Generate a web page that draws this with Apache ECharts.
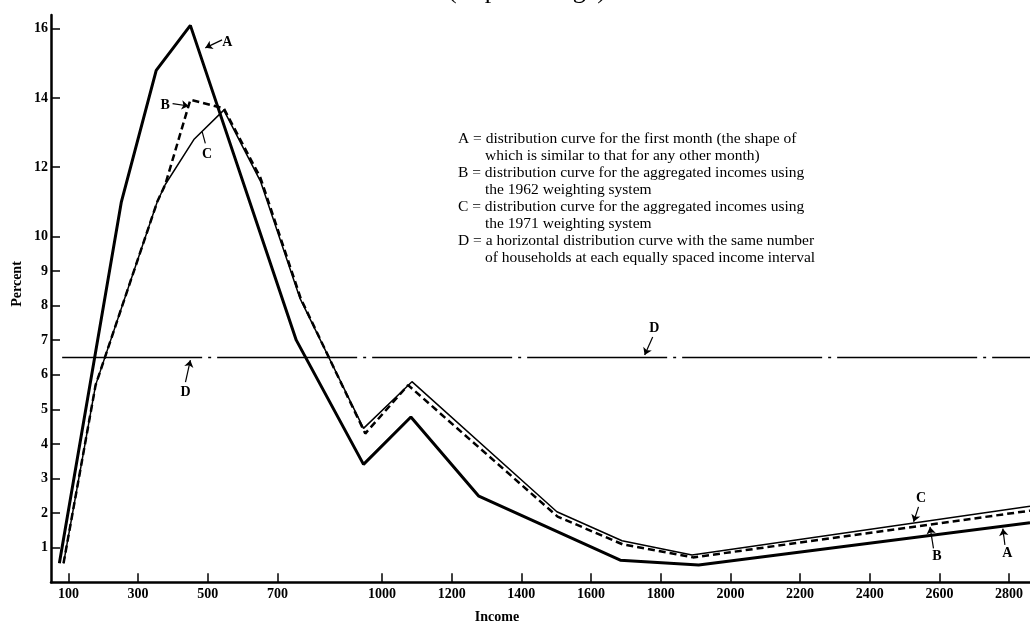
<!DOCTYPE html>
<html><head><meta charset="utf-8">
<script src="https://cdn.jsdelivr.net/npm/echarts@6/dist/echarts.min.js"></script>
<style>html,body{margin:0;padding:0;background:#fff}#c{width:1030px;height:625px}</style>
</head><body><div id="c"></div>
<script>
// ---- data ----
const xTickValues = [100,300,500,700,1000,1200,1400,1600,1800,2000,2200,2400,2600,2800];
const yTickValues = [1,2,3,4,5,6,7,8,9,10,12,14,16];
const curveA = [[74,0.55],[252,11.0],[352,14.8],[450,16.1],[754,7.0],[947,3.41],[1083,4.78],[1278,2.49],[1684,0.64],[1909,0.5],[2860,1.72]];
const curveB = [[86,0.55],[178,5.7],[278,8.7],[355,11.0],[378,11.5],[450,13.95],[546,13.7],[651,11.7],[767,8.2],[952,4.3],[1075,5.7],[1504,1.9],[1690,1.1],[1893,0.72],[2860,2.07]];
const curveC = [[86,0.55],[178,5.7],[278,8.7],[355,11.0],[378,11.5],[460,12.8],[546,13.65],[651,11.6],[765,8.2],[947,4.45],[1086,5.8],[1502,2.04],[1689,1.2],[1890,0.79],[2860,2.2]];
const curveD = [[82,6.5],[2860,6.5]];
const titleText = '(In percentage)';
const xName = 'Income';
const yName = 'Percent';
const legendLines = [
  'A = distribution curve for the first month (the shape of',
  'which is similar to that for any other month)',
  'B = distribution curve for the aggregated incomes using',
  'the 1962 weighting system',
  'C = distribution curve for the aggregated incomes using',
  'the 1971 weighting system',
  'D = a horizontal distribution curve with the same number',
  'of households at each equally spaced income interval'
];
// annotation letters (data coords) and leader lines
const annLetters = [['A',556,15.6],['B',378,13.8],['C',498,12.37],['D',436,5.5],['D',1782,7.34],['C',2547,2.43],['B',2593,0.74],['A',2795,0.84]];
const annLeaders = [
  [[541,15.68],[493,15.45],'arrow'],
  [[399,13.84],[445,13.77],'arrow'],
  [[493,12.69],[484,13.02],'none'],
  [[436,5.79],[450,6.42],'arrow'],
  [[1777,7.09],[1754,6.57],'arrow'],
  [[2540,2.18],[2526,1.75],'arrow'],
  [[2583,0.98],[2573,1.6],'arrow'],
  [[2788,1.08],[2782,1.55],'arrow']
];

const SERIF = '"Liberation Serif","DejaVu Serif",serif';
const chart = echarts.init(document.getElementById('c'), null, {renderer:'canvas'});

const graphics = [
  {type:'text', style:{text:titleText, x:527, y:-9, align:'center', verticalAlign:'middle', font:'26px '+SERIF, fill:'#000'}},
  {type:'text', style:{text:xName, x:497, y:617, align:'center', verticalAlign:'middle', font:'bold 14px '+SERIF, fill:'#000'}},
  {type:'text', rotation:Math.PI/2, x:17, y:284, style:{text:yName, x:0, y:0, align:'center', verticalAlign:'middle', font:'bold 14px '+SERIF, fill:'#000'}}
];
legendLines.forEach((t,i)=>{
  graphics.push({type:'text', style:{text:t, x:(i%2===0?458:485), y:139+i*17, align:'left', verticalAlign:'middle', font:'15.5px '+SERIF, fill:'#000'}});
});

const option = {
  animation:false,
  backgroundColor:'#fff',
  grid:{left:51, right:0, top:15, bottom:42.7, containLabel:false},
  xAxis:{type:'value', min:50, max:2860,
    axisLine:{show:true, onZero:false, lineStyle:{color:'#000', width:2.5}},
    axisTick:{show:true, inside:true, length:9, customValues:xTickValues, lineStyle:{color:'#000', width:1.5}},
    axisLabel:{customValues:xTickValues, margin:5, color:'#000', fontFamily:SERIF, fontSize:14, fontWeight:'bold', formatter:v=>String(v)},
    splitLine:{show:false}},
  yAxis:{type:'value', min:0, max:16.4,
    axisLine:{show:true, onZero:false, lineStyle:{color:'#000', width:2.5}},
    axisTick:{show:true, inside:true, length:9, customValues:yTickValues, lineStyle:{color:'#000', width:1.5}},
    axisLabel:{customValues:yTickValues, margin:3, color:'#000', fontFamily:SERIF, fontSize:14, fontWeight:'bold', formatter:v=>String(v)},
    splitLine:{show:false}},
  series:[
    {name:'A', type:'line', data:curveA, showSymbol:false, symbol:'none', lineStyle:{color:'#000', width:3}, silent:true},
    {name:'B', type:'line', data:curveB, showSymbol:false, symbol:'none', lineStyle:{color:'#000', width:2.5, type:[7,4]}, silent:true},
    {name:'C', type:'line', data:curveC, showSymbol:false, symbol:'none', lineStyle:{color:'#000', width:1.5}, silent:true},
    {name:'D', type:'line', data:curveD, showSymbol:false, symbol:'none', lineStyle:{color:'#000', width:1.6, type:[140,6,3,6]}, silent:true,
      markLine:{silent:true, animation:false, symbolSize:7, label:{show:false}, lineStyle:{color:'#000', width:1.2, type:'solid'},
        data: annLeaders.map(l=>[{coord:l[0], symbol:'none'},{coord:l[1], symbol:l[2]}])},
      markPoint:{silent:true, animation:false, symbol:'circle', symbolSize:1, itemStyle:{color:'rgba(0,0,0,0)'},
        label:{show:true, position:'inside', color:'#000', fontFamily:SERIF, fontSize:14, fontWeight:'bold', formatter:p=>p.name},
        data: annLetters.map(a=>({name:a[0], coord:[a[1],a[2]]}))}
    }
  ],
  graphic:graphics
};
chart.setOption(option);
</script></body></html>
